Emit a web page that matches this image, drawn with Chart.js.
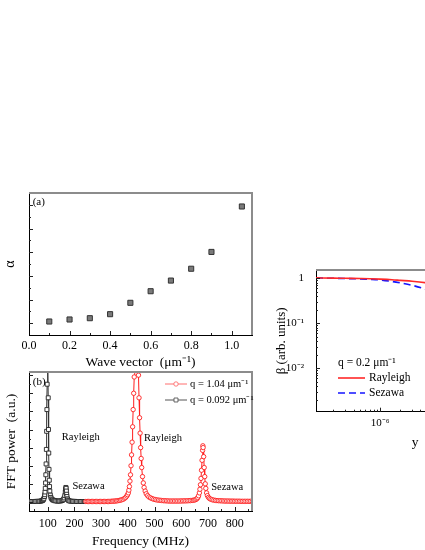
<!DOCTYPE html>
<html>
<head>
<meta charset="utf-8">
<script src="https://cdn.jsdelivr.net/npm/chart.js@4.4.1/dist/chart.umd.min.js"></script>
<style>
  html, body { margin: 0; padding: 0; background: #fff; overflow: hidden; width: 425px; height: 550px; position: relative; }
  canvas { position: absolute; }
  #chartA { left: 0; top: 180px; }
  #chartB { left: 0; top: 360px; }
  #chartC { left: 270px; top: 255px; }
</style>
</head>
<body>
<canvas id="chartA" width="260" height="195"></canvas>
<canvas id="chartB" width="260" height="190"></canvas>
<canvas id="chartC" width="260" height="200"></canvas>
<script>
// (a) alpha vs wave vector
const waveVector = [0.1, 0.2, 0.3, 0.4, 0.5, 0.6, 0.7, 0.8, 0.9, 1.05];
const alpha = [0.07, 0.155, 0.21, 0.38, 0.86, 1.35, 1.80, 2.30, 3.01, 4.93];
const waveTicks = [0, 0.2, 0.4, 0.6, 0.8, 1.0];
const alphaTicks = [0, 1, 2, 3, 4, 5];

// (b) FFT spectra
const blackFreq = [30,35,40,45,50,55,60,65,70,75,78,80,82,84,86,88,
  89,90,91,92,93,94,95,96,97,98,99,100,101,102,103,104,105,106,107,108,
  110,112,115,118,122,126,130,135,140,145,150,
  154,157,160,162,164,166,167,168,169,170,171,172,174,176,179,183,188,
  193,198,203,208,213,218,223,228,233,238,243];
const blackPower = [0.05,0.05,0.05,0.05,0.05,0.06,0.06,0.07,0.08,0.1,0.13,0.16,0.2,0.28,0.4,0.6,
  0.8,1.1,1.5,2.1,3.0,4.2,5.8,7.8,10.2,13.0,16.0,18.0,15.5,11.5,8.0,5.4,3.6,2.4,1.7,1.2,
  0.75,0.5,0.33,0.24,0.18,0.14,0.12,0.1,0.1,0.1,0.12,
  0.16,0.22,0.3,0.45,0.7,1.1,1.4,1.6,1.5,1.2,0.85,0.6,0.35,0.22,0.14,0.1,0.08,
  0.07,0.06,0.06,0.05,0.05,0.05,0.05,0.05,0.05,0.05,0.05];
const redFreq = [243,248,253,258,263,268,273,278,283,288,293,298,303,308,313,318,323,328,
  333,338,343,348,353,358,363,368,373,378,383,388,
  392,396,399,402,404,406,408,410,412,414,416,418,420,422,424,426,428,430,432,434,
  436,438,440,442,444,446,448,450,452,455,458,461,465,469,474,479,485,491,497,
  503,509,515,521,527,533,539,545,551,557,563,569,575,581,587,593,599,605,611,617,623,629,635,641,
  646,651,655,659,662,665,668,670,672,674,676,678,680,681,682,684,686,688,690,692,695,698,702,706,711,716,722,728,
  734,740,746,752,758,764,770,776,782,788,794,800,806,812,818,824,830,836,842,848,854,860,866];
const redPower = [0.05,0.05,0.05,0.05,0.05,0.05,0.05,0.05,0.05,0.05,0.05,0.05,0.05,0.05,0.05,0.05,0.05,0.05,
  0.06,0.07,0.08,0.09,0.1,0.12,0.14,0.17,0.2,0.25,0.3,0.4,
  0.5,0.65,0.8,1.0,1.3,1.7,2.3,3.0,4.0,5.2,6.6,8.3,10.2,12.0,13.8,15.5,17.5,20,22,21,
  19,16.5,14,11.5,9.3,7.6,6.0,4.8,3.8,2.8,2.1,1.6,1.2,0.9,0.7,0.55,0.45,0.37,0.3,
  0.26,0.22,0.2,0.18,0.16,0.14,0.13,0.12,0.11,0.1,0.1,0.1,0.1,0.1,0.1,0.1,0.11,0.11,0.12,0.12,0.13,0.14,0.15,0.17,
  0.19,0.22,0.27,0.36,0.48,0.68,1.0,1.4,1.9,2.6,3.5,4.6,5.7,6.2,6.0,5.0,3.8,2.8,2.0,1.5,1.0,0.7,0.5,0.38,0.3,0.24,0.2,0.17,
  0.15,0.14,0.13,0.12,0.11,0.1,0.1,0.1,0.09,0.09,0.09,0.08,0.08,0.08,0.08,0.07,0.07,0.07,0.07,0.07,0.07,0.07,0.07];
const freqTicks = [100, 200, 300, 400, 500, 600, 700, 800];
const powerTicks = [0, 2, 4, 6, 8, 10, 12, 14];

// (c) beta vs y
const yValues = [1.1e-7, 2e-7, 3e-7, 5e-7, 7e-7, 1e-6, 1.5e-6, 2e-6, 3e-6, 5e-6, 1e-5, 2e-5, 5e-5, 1e-4];
const betaRayleigh = [1.02, 1.01, 1.0, 0.99, 0.98, 0.96, 0.93, 0.9, 0.86, 0.79, 0.68, 0.55, 0.35, 0.22];
const betaSezawa = [1.02, 1.0, 0.99, 0.97, 0.95, 0.92, 0.85, 0.79, 0.7, 0.56, 0.38, 0.22, 0.09, 0.04];
const betaTicks = [0.01, 0.1, 1];
const betaTickLabels = ['10⁻²', '10⁻¹', '1'];
const yTicks = [1e-6, 1e-5];
const yTickLabels = ['10⁻⁶', '10⁻⁵'];

const SERIF = '"Liberation Serif", "Times New Roman", serif';
Chart.defaults.font.family = SERIF;
Chart.defaults.color = '#000';
Chart.defaults.animation = false;

const pts = (xs, ys) => xs.map((v, i) => ({x: v, y: ys[i]}));

// inward ticks + grey top/right frame
const insideTicks = {
  id: 'insideTicks',
  afterDatasetsDraw(chart) {
    const {ctx, chartArea: a} = chart;
    ctx.save();
    ctx.strokeStyle = '#222';
    ctx.lineWidth = 1;
    Object.values(chart.scales).forEach(s => {
      const majors = s.ticks.map(t => t.value);
      const minors = [];
      if (s.type === 'logarithmic') {
        for (let e = Math.floor(Math.log10(s.min)); e <= Math.ceil(Math.log10(s.max)); e++) {
          for (let m = 1; m <= 9; m++) minors.push(m * Math.pow(10, e));
        }
      } else {
        const step = majors[1] - majors[0];
        for (let v = majors[0] - step / 2; v <= s.max; v += step) minors.push(v);
      }
      const draw = (v, len) => {
        if (v <= s.min || v >= s.max) return;
        const p = Math.round(s.getPixelForValue(v)) + 0.5;
        ctx.beginPath();
        if (s.isHorizontal()) { ctx.moveTo(p, a.bottom); ctx.lineTo(p, a.bottom - len); }
        else { ctx.moveTo(a.left, p); ctx.lineTo(a.left + len, p); }
        ctx.stroke();
      };
      minors.forEach(v => draw(v, 2));
      majors.forEach(v => draw(v, 4));
    });
    ctx.strokeStyle = '#8c8c8c';
    ctx.lineWidth = 2;
    ctx.beginPath();
    ctx.moveTo(a.left, a.top);
    ctx.lineTo(a.right, a.top);
    ctx.lineTo(a.right, a.bottom);
    ctx.stroke();
    ctx.restore();
  }
};

// text notes placed in data coordinates
const notes = {
  id: 'notes',
  afterDatasetsDraw(chart, args, opts) {
    if (!opts.items) return;
    const {ctx, scales: {x, y}} = chart;
    ctx.save();
    ctx.fillStyle = '#000';
    ctx.textAlign = 'left';
    ctx.textBaseline = 'middle';
    opts.items.forEach(n => {
      ctx.font = (n.size || 11) + 'px ' + SERIF;
      ctx.fillText(n.text, x.getPixelForValue(n.x), y.getPixelForValue(n.y));
    });
    ctx.restore();
  }
};

// small legend inside the plot
const keyBox = {
  id: 'keyBox',
  afterDatasetsDraw(chart, args, o) {
    if (!o.rows) return;
    const {ctx, chartArea: a} = chart;
    const x0 = o.right != null ? a.right - o.right : a.left + o.left;
    let yy = a.top + o.top;
    ctx.save();
    ctx.font = o.size + 'px ' + SERIF;
    ctx.textBaseline = 'middle';
    ctx.textAlign = 'left';
    ctx.fillStyle = '#000';
    if (o.title) { ctx.fillText(o.title, x0, yy); yy += o.step; }
    o.rows.forEach(r => {
      const ds = chart.data.datasets[r.dataset];
      ctx.strokeStyle = r.lineColor || ds.borderColor;
      ctx.lineWidth = ds.borderWidth;
      ctx.setLineDash(ds.borderDash || []);
      ctx.beginPath();
      ctx.moveTo(x0, yy);
      ctx.lineTo(x0 + o.lineLen, yy);
      ctx.stroke();
      ctx.setLineDash([]);
      if (ds.pointRadius) {
        ctx.fillStyle = ds.pointBackgroundColor;
        ctx.strokeStyle = r.lineColor || ds.pointBorderColor;
        ctx.lineWidth = ds.pointBorderWidth;
        ctx.beginPath();
        if (ds.pointStyle === 'rect') {
          const h = ds.pointRadius * Math.SQRT1_2;
          ctx.rect(x0 + o.lineLen / 2 - h, yy - h, 2 * h, 2 * h);
        } else {
          ctx.arc(x0 + o.lineLen / 2, yy, ds.pointRadius, 0, Math.PI * 2);
        }
        ctx.fill();
        ctx.stroke();
        ctx.fillStyle = '#000';
      }
      ctx.fillText(r.text, x0 + o.lineLen + o.gap, yy);
      yy += o.step;
    });
    ctx.restore();
  }
};

const plainAxis = {
  grid: {display: false},
  border: {display: true, color: '#000', width: 1},
  bounds: 'data'
};

// panel (a)
new Chart(document.getElementById('chartA'), {
  type: 'scatter',
  data: {
    datasets: [{
      data: pts(waveVector, alpha),
      pointStyle: 'rect',
      pointRadius: 3.6,
      pointBackgroundColor: '#7a7a7a',
      pointBorderColor: '#333',
      pointBorderWidth: 1
    }]
  },
  options: {
    responsive: false,
    devicePixelRatio: 1,
    layout: {padding: {top: 13, right: 8, left: 0, bottom: 0}},
    plugins: {
      legend: {display: false},
      tooltip: {enabled: false},
      notes: {items: [{text: '(a)', x: 0.018, y: 5.12, size: 11}]}
    },
    scales: {
      x: {
        ...plainAxis, type: 'linear', min: 0, max: 1.1,
        afterBuildTicks: s => { s.ticks = waveTicks.map(v => ({value: v})); },
        afterFit: s => { s.height = 40; },
        ticks: {font: {size: 12}, padding: -4, maxRotation: 0, callback: v => v.toFixed(1)},
        title: {display: true, text: 'Wave vector  (μm⁻¹)', font: {size: 13.5}, padding: {top: 0, bottom: 4}}
      },
      y: {
        ...plainAxis, type: 'linear', min: -0.5, max: 5.5,
        afterBuildTicks: s => { s.ticks = alphaTicks.map(v => ({value: v})); },
        afterFit: s => { s.width = 29; },
        ticks: {display: false},
        title: {display: true, text: 'α', font: {size: 14}, padding: {top: 2, bottom: 0}}
      }
    }
  },
  plugins: [insideTicks, notes]
});

// panel (b)
new Chart(document.getElementById('chartB'), {
  type: 'scatter',
  data: {
    datasets: [{
      label: 'q = 1.04 μm⁻¹',
      data: pts(redFreq, redPower),
      showLine: true,
      borderColor: 'rgb(255,30,30)',
      borderWidth: 1,
      pointStyle: 'circle',
      pointRadius: 2.2,
      pointBackgroundColor: '#fff',
      pointBorderColor: 'rgb(255,30,30)',
      pointBorderWidth: 0.9,
      clip: 0
    }, {
      label: 'q = 0.092 μm⁻¹',
      data: pts(blackFreq, blackPower),
      showLine: true,
      borderColor: '#333',
      borderWidth: 1,
      pointStyle: 'rect',
      pointRadius: 2.8,
      pointBackgroundColor: '#fff',
      pointBorderColor: '#222',
      pointBorderWidth: 0.9,
      clip: 0
    }]
  },
  options: {
    responsive: false,
    devicePixelRatio: 1,
    layout: {padding: {top: 12, right: 8, left: 0, bottom: 0}},
    plugins: {
      legend: {display: false},
      tooltip: {enabled: false},
      notes: {items: [
        {text: '(b)', x: 44, y: 13.2, size: 11},
        {text: 'Rayleigh', x: 153, y: 7.1, size: 10.5},
        {text: 'Sezawa', x: 193, y: 1.7, size: 10.5},
        {text: 'Rayleigh', x: 461, y: 7.0, size: 10.5},
        {text: 'Sezawa', x: 712, y: 1.6, size: 10.5}
      ]},
      keyBox: {
        right: 87, top: 12, step: 16, lineLen: 22, gap: 3, size: 10.5,
        rows: [
          {dataset: 0, text: 'q = 1.04 μm⁻¹', lineColor: 'rgb(255,110,110)'},
          {dataset: 1, text: 'q = 0.092 μm⁻¹', lineColor: '#555'}
        ]
      }
    },
    scales: {
      x: {
        ...plainAxis, type: 'linear', min: 30, max: 865,
        afterBuildTicks: s => { s.ticks = freqTicks.map(v => ({value: v})); },
        afterFit: s => { s.height = 39; },
        ticks: {font: {size: 12}, padding: -2, maxRotation: 0},
        title: {display: true, text: 'Frequency (MHz)', font: {size: 13.5}, padding: {top: 0, bottom: 0}}
      },
      y: {
        ...plainAxis, type: 'linear', min: -1, max: 14.35,
        afterBuildTicks: s => { s.ticks = powerTicks.map(v => ({value: v})); },
        afterFit: s => { s.width = 29; },
        ticks: {display: false},
        title: {display: true, text: 'FFT power  (a.u.)', font: {size: 13.5}, padding: {top: 3, bottom: 0}}
      }
    }
  },
  plugins: [insideTicks, notes, keyBox]
});

// panel (c), cut off at the right edge
new Chart(document.getElementById('chartC'), {
  type: 'scatter',
  data: {
    datasets: [{
      label: 'Rayleigh',
      data: pts(yValues, betaRayleigh),
      showLine: true,
      borderColor: 'rgb(255,40,40)',
      borderWidth: 1.6,
      pointRadius: 0,
      cubicInterpolationMode: 'monotone'
    }, {
      label: 'Sezawa',
      data: pts(yValues, betaSezawa),
      showLine: true,
      borderColor: 'rgb(20,20,255)',
      borderWidth: 1.6,
      borderDash: [7, 4],
      pointRadius: 0,
      cubicInterpolationMode: 'monotone'
    }]
  },
  options: {
    responsive: false,
    devicePixelRatio: 1,
    layout: {padding: {top: 15, right: 16, left: 0, bottom: 0}},
    plugins: {
      legend: {display: false},
      tooltip: {enabled: false},
      keyBox: {
        left: 22, top: 93, step: 15, lineLen: 27, gap: 4, size: 11.5,
        title: 'q = 0.2 μm⁻¹',
        rows: [{dataset: 0, text: 'Rayleigh'}, {dataset: 1, text: 'Sezawa'}]
      }
    },
    scales: {
      x: {
        ...plainAxis, type: 'logarithmic', min: 1.1e-7, max: 1e-4,
        afterBuildTicks: s => { s.ticks = yTicks.map(v => ({value: v})); },
        afterFit: s => { s.height = 43.3; },
        ticks: {font: {size: 11}, padding: -3, maxRotation: 0, callback: (v, i) => yTickLabels[i]},
        title: {display: true, text: 'y', font: {size: 13.5}, padding: {top: 0, bottom: 4}}
      },
      y: {
        ...plainAxis, type: 'logarithmic', min: 1.086e-3, max: 1.53,
        afterBuildTicks: s => { s.ticks = betaTicks.map(v => ({value: v})); },
        afterFit: s => { s.width = 46; },
        ticks: {font: {size: 11}, padding: 4, callback: (v, i) => betaTickLabels[i]},
        title: {display: true, text: 'β (arb. units)', font: {size: 13}, padding: {top: 4, bottom: 0}}
      }
    }
  },
  plugins: [insideTicks, keyBox]
});
</script>
</body>
</html>
